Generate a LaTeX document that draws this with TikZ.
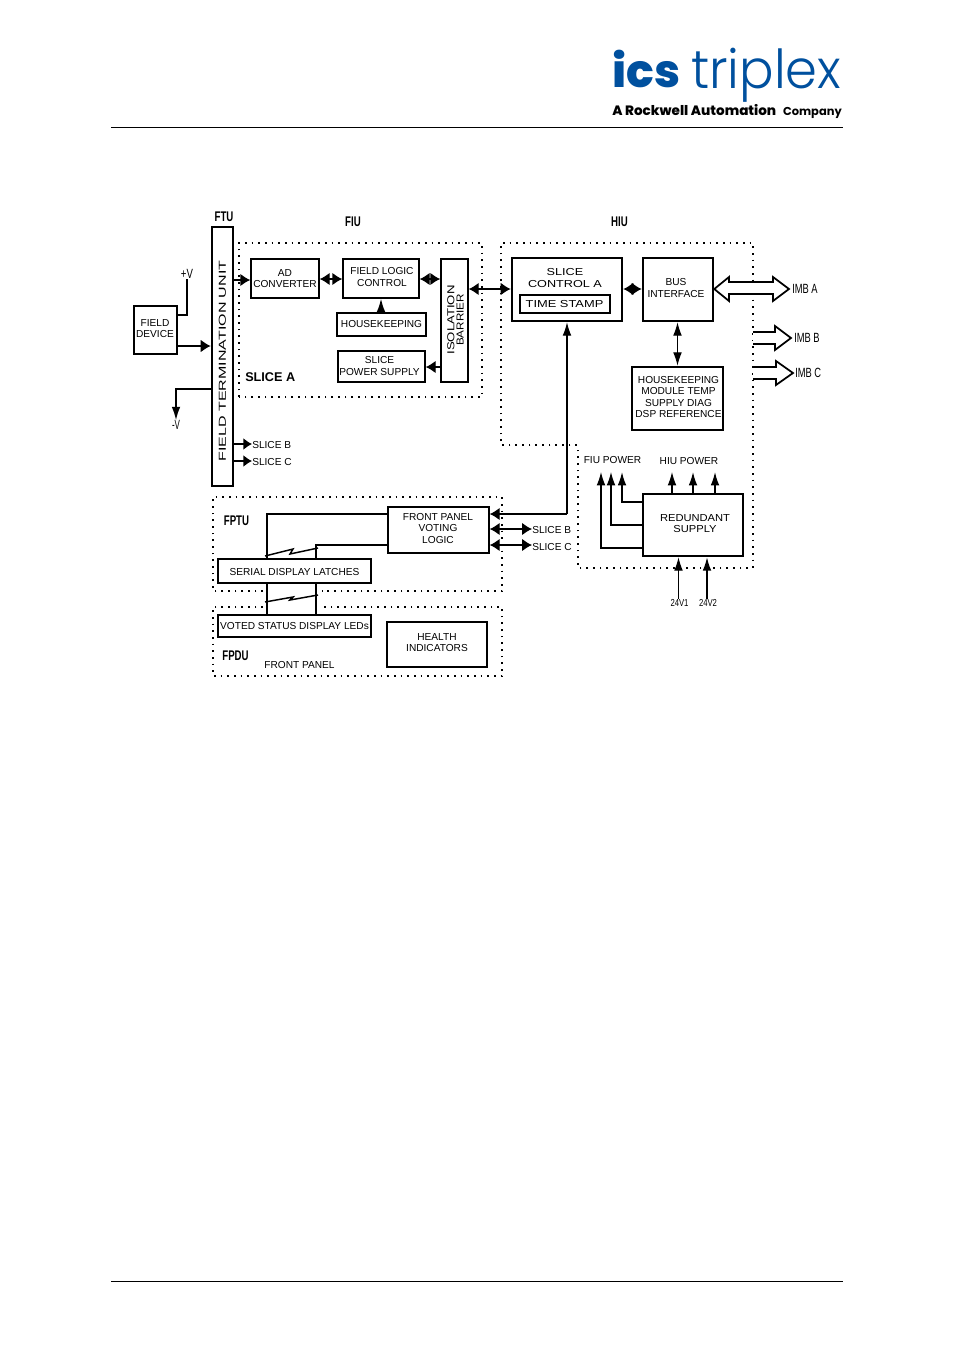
\documentclass[tikz,border=0pt]{standalone}
\usepackage{fontspec}
\usepackage{graphicx}
\setmainfont{Liberation Sans}
\newfontfamily\logofont{Poppins}
\newfontfamily\logolight{Poppins}[UprightFont=* Light]
\newfontfamily\logoheavy{Poppins}[UprightFont=* ExtraBold]
\usetikzlibrary{arrows.meta}
\definecolor{logoblue}{HTML}{00509E}
\newcommand\bx[7][]{\node[boxn,#1,minimum width={(#4-#2)*0.75pt},minimum height={(#5-#3)*0.75pt}] (#6) at ({(#2+#4)/2},{(#3+#5)/2}) {#7};}
\newcommand\cond[2][.72]{\scalebox{#1}[1]{#2}}
\newcommand\wide[2]{\scalebox{#1}[1]{#2}}
\tikzset{
  x=0.75pt,y=-0.75pt,
  boxn/.style={draw=black,fill=white,line width=1.1pt,inner sep=0pt,align=center,font=\fontsize{7.6}{8.3}\selectfont},
  heavy/.style={line width=1.9pt},
  dots/.style={line width=1.2pt,dash pattern=on 1.2pt off 3.8pt},
  lab/.style={inner sep=0pt,font=\fontsize{7.6}{8.3}\selectfont,align=center},
  tall/.style={inner sep=0pt,font=\fontsize{10}{11}\selectfont},
  blab/.style={inner sep=0pt,font=\fontsize{10.5}{11}\selectfont\bfseries},
  wire/.style={line width=1.1pt},
  harr/.style={line width=1.1pt,-{Latex[length=7.5pt,width=9.5pt]}},
  harrs/.style={line width=1.1pt,-{Latex[length=6.5pt,width=9pt]}},
  varr/.style={line width=1.1pt,-{Latex[length=10pt,width=6.5pt]}},
  varrs/.style={line width=.8pt,-{Latex[length=10pt,width=6.5pt]}},
  dblh/.style={line width=1.1pt,{Latex[length=7.5pt,width=9.5pt]}-{Latex[length=7.5pt,width=9.5pt]}},
  dblv/.style={line width=.8pt,{Latex[length=10pt,width=6.5pt]}-{Latex[length=10pt,width=6.5pt]}},
  hollow/.style={line width=1.3pt,fill=white,line join=miter},
}
\begin{document}
\begin{tikzpicture}
\useasboundingbox[fill=white] (0,0) rectangle (954,1350);
% header and footer
\coordinate (hl) at (111,127.5); \coordinate (hr) at (843,127.5);
\coordinate (fl) at (111,1281.5); \coordinate (fr) at (843,1281.5);
\draw[line width=.75pt] (hl) -- (hr);
\draw[line width=.75pt] (fl) -- (fr);
\node[anchor=base west,inner sep=0pt,text=logoblue] (ics) at (612,87) {\resizebox{51pt}{!}{\logoheavy ics}};
\node[anchor=base west,inner sep=0pt,text=logoblue] (trip) at (691,88) {\scalebox{1}[1.05]{\resizebox{112.5pt}{!}{\logolight triplex}}};
\node[anchor=base west,inner sep=0pt] (rock) at (612,115) {\resizebox{123pt}{!}{\logoheavy A Rockwell Automation}};
\node[anchor=base east,inner sep=0pt] (comp) at (842,115) {\resizebox{44pt}{!}{\logofont\bfseries Company}};
% dotted regions
\draw[dots] (239,397) -- (239,243) -- (482,243) -- (482,397) -- cycle;
\draw[dots] (577,445) -- (501,445) -- (501,243) -- (753,243) -- (753,568) -- (578,568) -- (578,445);
\draw[dots] (263,591) -- (213,591) -- (213,497) -- (502,497) -- (502,591) -- (322,591);
\draw[dots] (263,607) -- (213,607) -- (213,676) -- (502,676) -- (502,607) -- (322,607);
% boxes
\bx[heavy]{212}{227}{233}{486}{ftu}{}
\node[lab,rotate=90] (ftut) at (222.5,361) {\wide{1.58}{FIELD TERMINATION UNIT}};
\bx{134}{306}{177}{354}{dev}{}
\node[lab] (devt) at (155,329) {FIELD\\DEVICE};
\bx{251}{259}{319}{298}{ad}{AD\\CONVERTER}
\bx{343}{259}{419}{298}{flc}{}
\node[lab] (flct) at (382,277) {FIELD LOGIC\\CONTROL};
\bx{441}{259}{468}{382}{iso}{}
\node[lab,rotate=90,font=\fontsize{7.6}{7}\selectfont] (isot) at (455.5,320) {\wide{1.3}{ISOLATION}\\\wide{1.15}{BARRIER}};
\bx{337}{313}{426}{336}{hk}{HOUSEKEEPING}
\bx{338}{351}{425}{382}{sps}{}
\node[lab] (spst) at (379.5,366) {SLICE\\POWER SUPPLY};
\bx[heavy]{512}{258}{622}{321}{sc}{}
\node[lab] (sct) at (565,278) {\wide{1.25}{SLICE}\\\wide{1.25}{CONTROL A}};
\bx{520}{295}{610}{313}{ts}{}
\node[lab] (tst) at (564.5,304) {\wide{1.27}{TIME STAMP}};
\bx[heavy]{643}{258}{713}{321}{bus}{}
\node[lab] (bust) at (676,288) {BUS\\INTERFACE};
\bx[heavy]{632}{367}{723}{430}{hk2}{}
\node[lab] (hk2t) at (678.5,397) {HOUSEKEEPING\\MODULE TEMP\\SUPPLY DIAG\\DSP REFERENCE};
\bx[heavy]{643}{494}{743}{556}{red}{}
\node[lab] (redt) at (695,524) {\wide{1.1}{REDUNDANT}\\\wide{1.1}{SUPPLY}};
\bx{388}{507}{489}{553}{fpv}{}
\node[lab] (fpvt) at (438,528.5) {FRONT PANEL\\VOTING\\LOGIC};
\bx{218}{559}{371}{583}{sdl}{}
\node[lab] (sdlt) at (294.5,572.5) {SERIAL DISPLAY LATCHES};
\bx{218}{615}{371}{637}{led}{}
\node[lab] (ledt) at (294.5,626) {VOTED STATUS DISPLAY LEDs};
\bx{387}{622}{487}{667}{hi}{}
\node[lab] (hit) at (437,643) {HEALTH\\INDICATORS};
% labels
\node[blab] (lftu) at (224,216.5) {\wide{.69}{FTU}};
\node[blab] (lfiu) at (353,222) {\wide{.69}{FIU}};
\node[blab] (lhiu) at (619.5,222) {\wide{.69}{HIU}};
\node[blab,anchor=west,font=\fontsize{9.5}{10}\selectfont\bfseries] (lsa) at (245,377) {SLICE A};
\node[blab] (lfptu) at (236.5,521) {\wide{.69}{FPTU}};
\node[blab] (lfpdu) at (235.5,656) {\wide{.69}{FPDU}};
\node[lab] (lfp) at (299.5,665) {FRONT PANEL};
\node[tall] (lpv) at (187,274) {\cond{+V}};
\node[tall] (lmv) at (176,425) {\cond[.6]{-V}};
\node[lab,anchor=west] (lsb) at (252,445.5) {SLICE B};
\node[lab,anchor=west] (lsc) at (252,462) {SLICE C};
\node[lab,anchor=west] (lsb2) at (532,530) {SLICE B};
\node[lab,anchor=west] (lsc2) at (532,547) {SLICE C};
\node[lab] (lfiup) at (612.5,460) {FIU POWER};
\node[lab] (lhiup) at (689,461.5) {HIU POWER};
\node[lab] (l24a) at (679.5,602.5) {\cond[.76]{24V1}};
\node[lab] (l24b) at (708,602.5) {\cond[.76]{24V2}};
\node[tall,anchor=west] (limba) at (792,289) {\cond[.7]{IMB A}};
\node[tall,anchor=west] (limbb) at (794,338) {\cond[.7]{IMB B}};
\node[tall,anchor=west] (limbc) at (795,373) {\cond[.7]{IMB C}};
% connectors, FIU side
\draw[wire] (dev.east |- 0,315) -| (lpv.south);
\draw[harr] (dev.east |- 0,346) -- (ftu.west |- 0,346);
\draw[varr] (ftu.west |- 0,389) -| (lmv.north);
\draw[harr] (ftu.east |- 0,280) -- (ad.west |- 0,280);
\draw[harrs] (ftu.east |- 0,444) -- (lsb.west |- 0,444);
\draw[harrs] (ftu.east |- 0,461) -- (lsc.west |- 0,461);
\draw[dblh] (ad.east |- 0,279) -- (flc.west |- 0,279);
\draw[dblh] (flc.east |- 0,279) -- (iso.west |- 0,279);
\draw[varr] (hk.north -| 381,0) -- (flc.south -| 381,0);
\draw[harr] (iso.west |- 0,367) -- (sps.east |- 0,367);
\draw[dblh] (iso.east |- 0,289) -- (sc.west |- 0,289);
% connectors, HIU side
\draw[dblh] (sc.east |- 0,289) -- (bus.west |- 0,289);
\draw[dblv] (bus.south -| 677.5,0) -- (hk2.north -| 677.5,0);
\coordinate (cn) at (567,514);
\draw[varrs] (cn) -- (sc.south -| cn);
\draw[harr] (cn) -- (fpv.east |- cn);
\draw[dblh] (fpv.east |- 0,529) -- (lsb2.west |- 0,529);
\draw[dblh] (fpv.east |- 0,545) -- (lsc2.west |- 0,545);
% front panel wiring
\draw[wire] (fpv.west |- 0,514) -| (sdl.north -| 267,0);
\draw[wire] (fpv.west |- 0,545) -| (sdl.north -| 316,0);
\draw[wire] (sdl.south -| 267,0) -- (led.north -| 267,0);
\draw[wire] (sdl.south -| 316,0) -- (led.north -| 316,0);
\draw[wire] (265,556) -- (293,549) -- (290,554) -- (318,548);
\draw[wire] (265,602) -- (293,597) -- (290,600) -- (318,595);
% power
\coordinate (fa) at (601,472); \coordinate (fb) at (611,472); \coordinate (fc) at (622,472);
\draw[varrs] (red.west |- 0,548) -| (fa);
\draw[varrs] (red.west |- 0,525) -| (fb);
\draw[varr] (red.west |- 0,502) -| (fc);
\coordinate (ha) at (672,472); \coordinate (hb) at (693,472); \coordinate (hc) at (715,472);
\draw[varrs] (red.north -| ha) -- (ha);
\draw[varr] (red.north -| hb) -- (hb);
\draw[varr] (red.north -| hc) -- (hc);
\draw[varrs] (l24a.north -| 678.5,0) -- (red.south -| 678.5,0);
\draw[varr] (l24b.north -| 707,0) -- (red.south -| 707,0);
% IMB arrows
\coordinate (ta) at (789,289); \coordinate (tb) at (791,338); \coordinate (tc) at (793,373);
\draw[hollow] (bus.east |- 0,289) -- (729,277) -- (729,282) -- (773,282) -- (773,277) -- (ta) -- (773,301) -- (773,294) -- (729,294) -- (729,301) -- cycle;
\draw[hollow] (753,332) -- (775,332) -- (775,326) -- (tb) -- (775,350) -- (775,344) -- (753,344);
\draw[hollow] (753,367) -- (776,367) -- (776,361) -- (tc) -- (776,385) -- (776,379) -- (753,379);
\end{tikzpicture}
\end{document}
